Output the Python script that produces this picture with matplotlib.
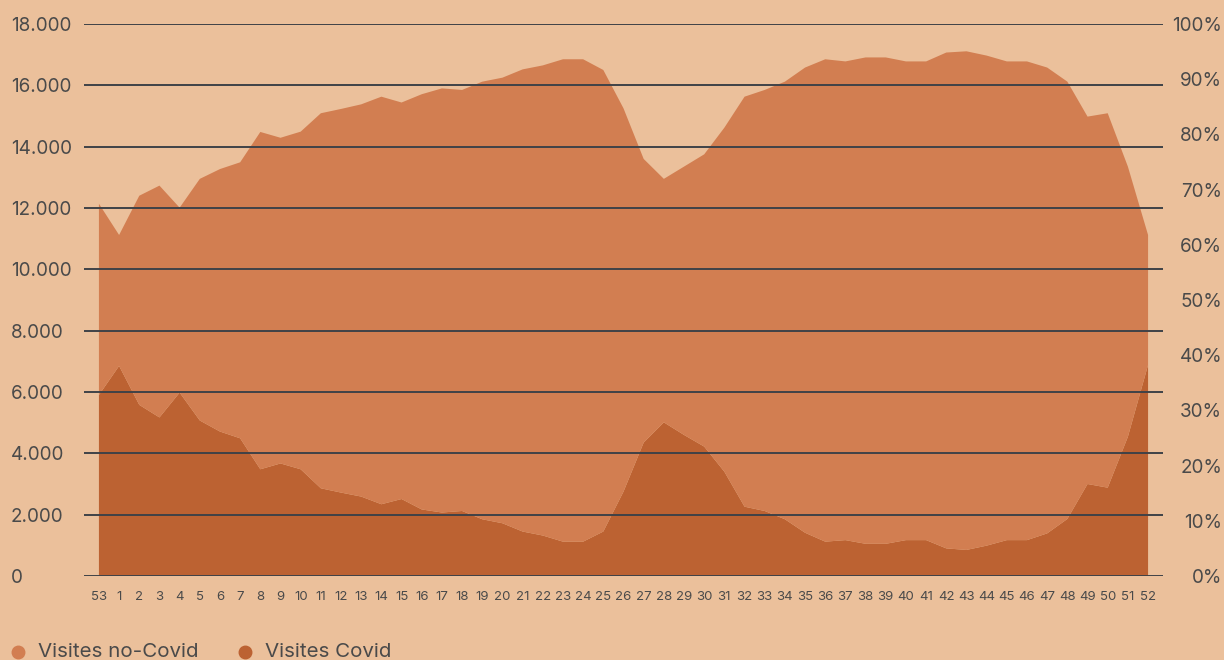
import matplotlib.pyplot as plt
from matplotlib.lines import Line2D

# weeks (first point is week 53 of the previous year)
weeks = ["53"] + [str(w) for w in range(1, 53)]

# Visites Covid (bottom layer)
covid = [5900, 6850, 5580, 5170, 5980, 5070, 4710, 4490, 3480, 3670,
         3480, 2860, 2720, 2590, 2340, 2510, 2170, 2070, 2120, 1850,
         1720, 1450, 1320, 1120, 1120, 1450, 2750, 4350, 5010, 4600,
         4220, 3400, 2260, 2120, 1850, 1410, 1120, 1170, 1050, 1050,
         1170, 1170, 900, 850, 990, 1170, 1170, 1390, 1860, 3000,
         2880, 4540, 6880]

# total visits (top of the stacked area)
total = [12140, 11120, 12400, 12730, 12010, 12950, 13270, 13490, 14480, 14290,
         14490, 15090, 15230, 15380, 15630, 15440, 15710, 15900, 15850, 16120,
         16250, 16520, 16650, 16850, 16850, 16500, 15250, 13600, 12950, 13350,
         13750, 14620, 15630, 15850, 16120, 16580, 16850, 16780, 16910, 16910,
         16780, 16780, 17070, 17110, 16970, 16780, 16780, 16580, 16120, 14980,
         15090, 13350, 11120]

no_covid = [t - c for t, c in zip(total, covid)]

left_ticks = list(range(0, 18001, 2000))
left_labels = ["0"] + [f"{v // 1000}.000" for v in left_ticks[1:]]
pct_ticks = list(range(0, 101, 10))

BG = "#EBC09B"
C_NOCOVID = "#D27E51"
C_COVID = "#BC6232"
TXT = "#4a4a4a"
GRID = "#3f4247"

plt.rcParams["font.family"] = ["Inter", "DejaVu Sans"]

fig = plt.figure(figsize=(12.24, 6.6), dpi=100, facecolor=BG)
ax = fig.add_axes([84 / 1224, 1 - 576 / 660, (1163 - 84) / 1224, (576 - 24) / 660])
ax.set_facecolor(BG)

x = list(range(len(weeks)))
ax.stackplot(x, covid, no_covid, colors=[C_COVID, C_NOCOVID], linewidth=0, zorder=1)

ax.set_xlim(-0.74, len(weeks) - 1 + 0.74)
ax.set_ylim(0, 18000)
ax.set_yticks(left_ticks)
ax.set_yticklabels(left_labels)
ax.set_xticks(x)
ax.set_xticklabels(weeks)

for v in left_ticks:
    ax.axhline(v, color=GRID, lw=1.4, zorder=3)

for s in ax.spines.values():
    s.set_visible(False)
ax.tick_params(axis="y", length=0, pad=52.5, labelsize=13.6, labelcolor=TXT)
for lbl in ax.get_yticklabels():
    lbl.set_horizontalalignment("left")
ax.tick_params(axis="x", length=0, pad=11, labelsize=9.5, labelcolor=TXT)

ax2 = ax.twinx()
ax2.set_ylim(0, 100)
ax2.set_yticks(pct_ticks)
ax2.set_yticklabels([f"{p}%" for p in pct_ticks])
for s in ax2.spines.values():
    s.set_visible(False)
ax2.tick_params(axis="y", length=0, pad=42.5, labelsize=13.6, labelcolor=TXT)
for lbl in ax2.get_yticklabels():
    lbl.set_horizontalalignment("right")

# legend at the bottom, partly cut by the figure edge
leg_y = 1 - 652 / 660
for px, label, col in [(18, "Visites no-Covid", C_NOCOVID), (245, "Visites Covid", C_COVID)]:
    fig.add_artist(Line2D([px / 1224], [leg_y], marker="o", markersize=9,
                          color=col, linestyle="none", transform=fig.transFigure))
    fig.text((px + 20) / 1224, leg_y, label, fontsize=14.8, color=TXT,
             va="center", ha="left")

fig.savefig("out.png", dpi=100, facecolor=BG)
